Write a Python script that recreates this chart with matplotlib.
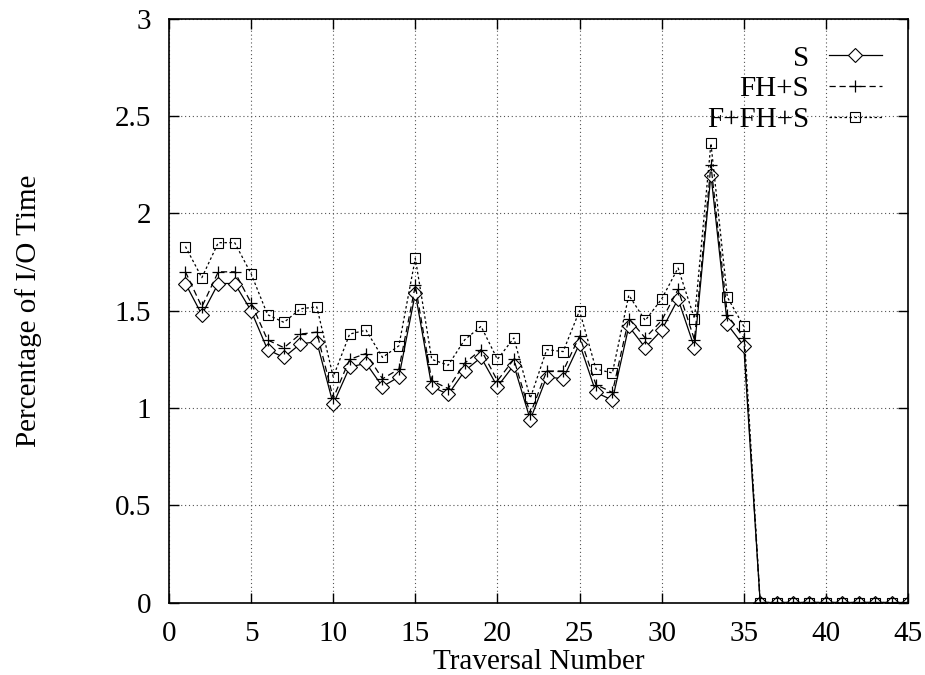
import matplotlib
matplotlib.use('Agg')
import matplotlib.pyplot as plt

plt.rcParams['font.family'] = ['Liberation Serif', 'DejaVu Serif']
plt.rcParams['font.size'] = 21

# Traversal numbers 1..45
traversal = list(range(1, 46))

# S
s_vals = [1.64, 1.48, 1.64, 1.64, 1.50, 1.30, 1.26, 1.33, 1.34, 1.02,
          1.21, 1.23, 1.11, 1.16, 1.59, 1.11, 1.07, 1.19, 1.26, 1.11,
          1.22, 0.94, 1.16, 1.15, 1.33, 1.08, 1.04, 1.42, 1.31, 1.40,
          1.56, 1.31, 2.20, 1.43, 1.32,
          0, 0, 0, 0, 0, 0, 0, 0, 0, 0]

# FH+S
fhs_vals = [1.70, 1.52, 1.70, 1.70, 1.54, 1.35, 1.31, 1.38, 1.39, 1.05,
            1.25, 1.28, 1.15, 1.20, 1.63, 1.14, 1.10, 1.23, 1.30, 1.14,
            1.25, 0.97, 1.19, 1.19, 1.37, 1.12, 1.08, 1.46, 1.36, 1.45,
            1.61, 1.35, 2.25, 1.48, 1.36,
            0, 0, 0, 0, 0, 0, 0, 0, 0, 0]

# F+FH+S
ffhs_vals = [1.83, 1.67, 1.85, 1.85, 1.69, 1.48, 1.44, 1.51, 1.52, 1.16,
             1.38, 1.40, 1.26, 1.32, 1.77, 1.25, 1.22, 1.35, 1.42, 1.25,
             1.36, 1.05, 1.30, 1.29, 1.50, 1.20, 1.18, 1.58, 1.45, 1.56,
             1.72, 1.46, 2.36, 1.57, 1.42,
             0, 0, 0, 0, 0, 0, 0, 0, 0, 0]

fig = plt.figure(figsize=(9.25, 6.75), dpi=100)
ax = fig.add_axes([0.1827, 0.1074, 0.7989, 0.8645])

ax.plot(traversal, s_vals, color='black', linewidth=0.9, linestyle='-',
        marker='D', markersize=7, markerfacecolor='white',
        markeredgecolor='black', markeredgewidth=0.8, label='S')
ax.plot(traversal, fhs_vals, color='black', linewidth=0.9,
        linestyle=(0, (5, 3)), marker='+', markersize=8,
        markeredgewidth=0.9, label='FH+S')
ax.plot(traversal, ffhs_vals, color='black', linewidth=0.9,
        linestyle=(0, (2, 2)), marker='s', markersize=6.5,
        markerfacecolor='none', markeredgecolor='black',
        markeredgewidth=0.8, label='F+FH+S')

ax.set_xlim(0, 45)
ax.set_ylim(0, 3)
ax.set_xticks(range(0, 46, 5))
ax.set_yticks([0, 0.5, 1, 1.5, 2, 2.5, 3])
ax.set_yticklabels(['0', '0.5', '1', '1.5', '2', '2.5', '3'])
ax.tick_params(direction='in', length=7, width=1, top=True, right=True,
               labelsize=21)
ax.tick_params(axis='x', pad=13)
ax.tick_params(axis='y', pad=13)
ax.grid(True, linestyle=(0, (1, 2.5)), color='#555555', linewidth=0.8)
for sp in ax.spines.values():
    sp.set_linewidth(1.2)

ax.set_xlabel('Traversal Number', fontsize=21, labelpad=2)
ax.set_ylabel('Percentage of I/O Time', fontsize=21, labelpad=52)

leg = ax.legend(loc='upper right', frameon=False, markerfirst=False,
                handlelength=1.8, handletextpad=0.7, labelspacing=0.15,
                borderaxespad=0.5, borderpad=0.4, fontsize=21)

fig.savefig('out.png', dpi=100)
